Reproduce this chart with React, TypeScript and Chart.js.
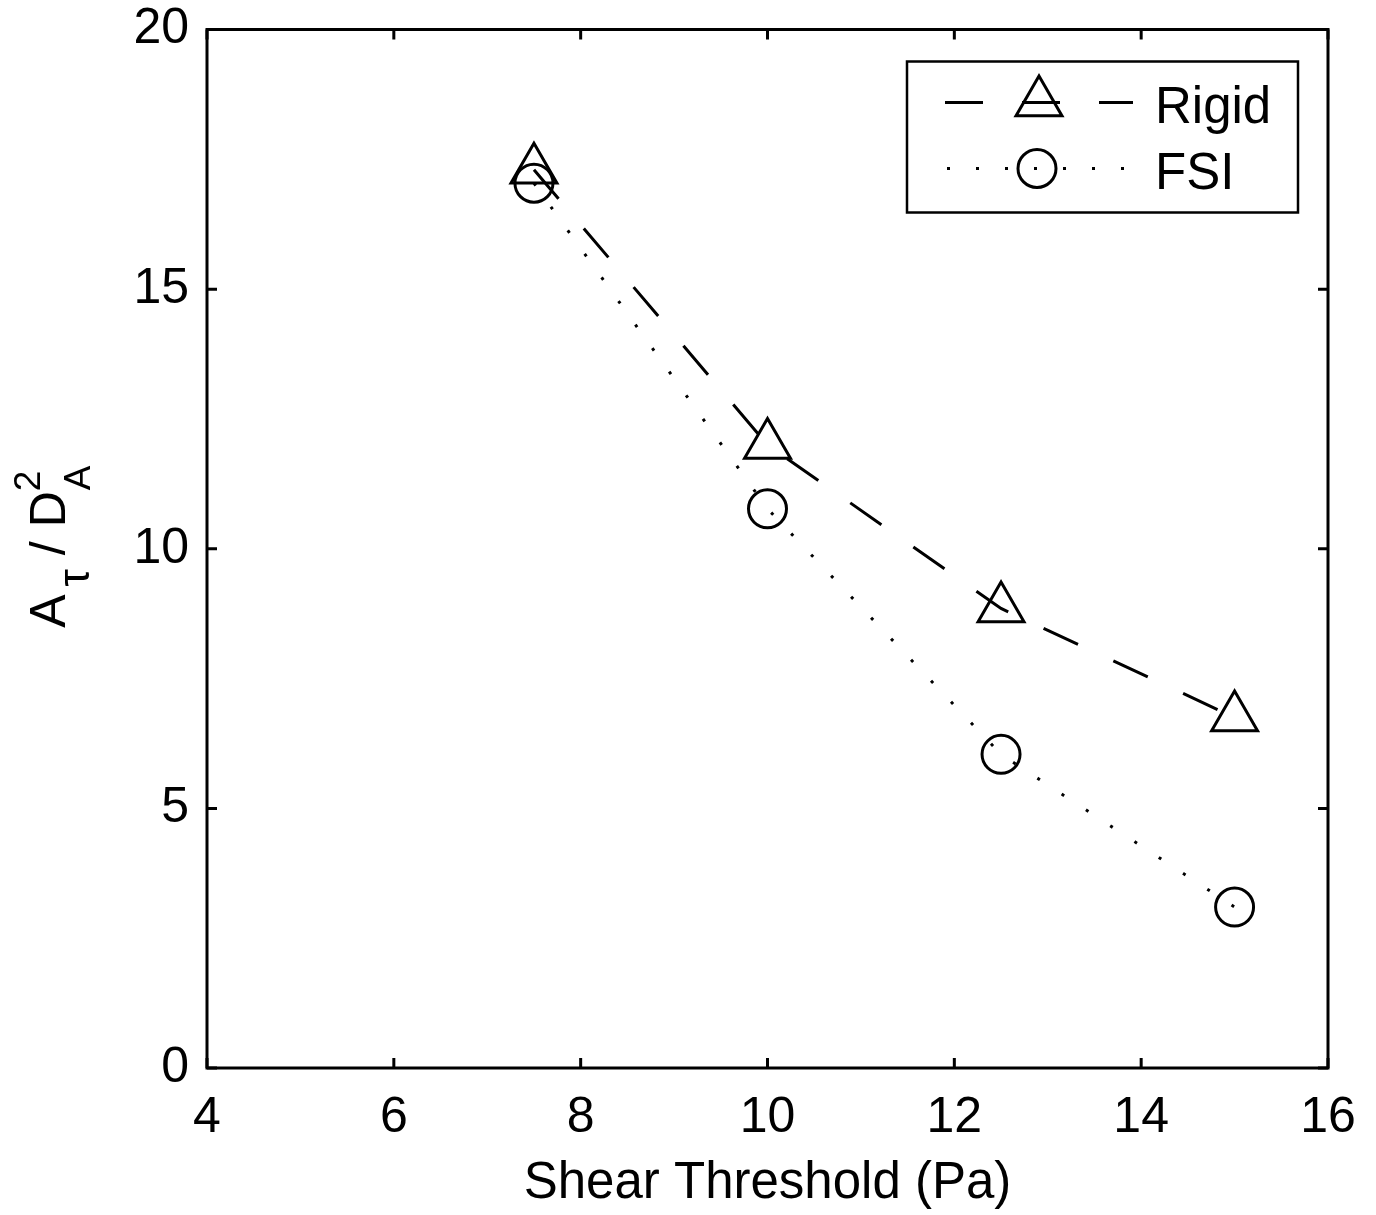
import React, { useEffect, useRef } from "react";
import { Chart, registerables } from "chart.js";

Chart.register(...registerables);

const shearThreshold = [7.5, 10, 12.5, 15];
const rigidValues = [17.3, 12.0, 8.85, 6.75];
const fsiValues = [17.04, 10.77, 6.04, 3.1];
const xTicks = [4, 6, 8, 10, 12, 14, 16];
const yTicks = [0, 5, 10, 15, 20];
const seriesNames = ["Rigid", "FSI"];

const FONT = "'Liberation Sans', Arial, Helvetica, sans-serif";

const boxPlugin = {
  id: "matlabBox",
  afterDatasetsDraw(chart: any) {
    const { ctx, chartArea: a, scales } = chart;
    ctx.save();
    ctx.strokeStyle = "#000";
    ctx.lineWidth = 3;
    ctx.setLineDash([]);
    ctx.lineCap = "butt";
    ctx.strokeRect(a.left, a.top, a.right - a.left, a.bottom - a.top);
    const tl = 10;
    ctx.beginPath();
    for (const v of xTicks) {
      const px = scales.x.getPixelForValue(v);
      ctx.moveTo(px, a.bottom);
      ctx.lineTo(px, a.bottom - tl);
      ctx.moveTo(px, a.top);
      ctx.lineTo(px, a.top + tl);
    }
    for (const v of yTicks) {
      const py = scales.y.getPixelForValue(v);
      ctx.moveTo(a.left, py);
      ctx.lineTo(a.left + tl, py);
      ctx.moveTo(a.right, py);
      ctx.lineTo(a.right - tl, py);
    }
    ctx.stroke();
    ctx.restore();
  },
  afterDraw(chart: any) {
    const { ctx, chartArea: a } = chart;
    ctx.save();
    // ---- legend ----
    const x1 = a.left + 700;
    const y1 = a.top + 32;
    const x2 = a.right - 30;
    const y2 = a.top + 183;
    ctx.fillStyle = "#fff";
    ctx.fillRect(x1, y1, x2 - x1, y2 - y1);
    ctx.strokeStyle = "#000";
    ctx.lineWidth = 2.5;
    ctx.setLineDash([]);
    ctx.strokeRect(x1, y1, x2 - x1, y2 - y1);
    const rows = [a.top + 73, a.top + 139];
    const lx0 = x1 + 38;
    const lx1 = x1 + 226;
    const mx = x1 + 132;
    ctx.lineWidth = 3;
    ctx.lineCap = "butt";
    // Rigid row
    ctx.setLineDash([38, 39]);
    ctx.beginPath();
    ctx.moveTo(lx0, rows[0]);
    ctx.lineTo(lx1, rows[0]);
    ctx.stroke();
    ctx.setLineDash([]);
    const r = 26.5;
    const T = (2 * Math.PI) / 3;
    ctx.beginPath();
    let rad = 0;
    ctx.moveTo(mx + Math.sin(rad) * r, rows[0] - Math.cos(rad) * r);
    rad += T;
    ctx.lineTo(mx + Math.sin(rad) * r, rows[0] - Math.cos(rad) * r);
    rad += T;
    ctx.lineTo(mx + Math.sin(rad) * r, rows[0] - Math.cos(rad) * r);
    ctx.closePath();
    ctx.stroke();
    // FSI row
    ctx.setLineDash([3, 26]);
    ctx.beginPath();
    ctx.moveTo(lx0 + 2, rows[1]);
    ctx.lineTo(lx1, rows[1]);
    ctx.stroke();
    ctx.setLineDash([]);
    ctx.beginPath();
    ctx.arc(mx - 2, rows[1], 19, 0, Math.PI * 2);
    ctx.stroke();
    ctx.fillStyle = "#000";
    ctx.font = `51px ${FONT}`;
    ctx.textAlign = "left";
    ctx.textBaseline = "alphabetic";
    ctx.fillText(seriesNames[0], x1 + 248, rows[0] + 20);
    ctx.fillText(seriesNames[1], x1 + 248, rows[1] + 20);

    // ---- y axis title: A_tau / D_A^2 ----
    const cy = (a.top + a.bottom) / 2;
    ctx.translate(65, cy);
    ctx.rotate(-Math.PI / 2);
    const big = `50px ${FONT}`;
    const small = `37px ${FONT}`;
    let u = -79;
    ctx.font = big;
    ctx.fillText("A", u, 0);
    u += ctx.measureText("A").width;
    ctx.font = `44px ${FONT}`;
    ctx.fillText("\u03C4", u + 8, 24);
    u += ctx.measureText("\u03C4").width + 8;
    ctx.font = big;
    ctx.fillText(" / ", u, 0);
    u += ctx.measureText(" / ").width;
    ctx.fillText("D", u, 0);
    u += ctx.measureText("D").width;
    ctx.font = small;
    ctx.fillText("2", u, -25);
    ctx.fillText("A", u + 1, 25);
    ctx.restore();
  },
};

export default function App() {
  const canvasRef = useRef<HTMLCanvasElement | null>(null);

  useEffect(() => {
    if (!canvasRef.current) return;
    const toPts = (vals: number[]) => shearThreshold.map((x, i) => ({ x, y: vals[i] }));
    const chart = new Chart(canvasRef.current, {
      type: "line",
      data: {
        datasets: [
          {
            label: seriesNames[0],
            data: toPts(rigidValues),
            borderColor: "#000",
            borderWidth: 3,
            borderDash: [38, 39],
            borderCapStyle: "butt",
            pointStyle: "triangle",
            pointRadius: 26.5,
            pointHoverRadius: 26.5,
            pointBorderWidth: 3,
            pointBorderColor: "#000",
            pointBackgroundColor: "rgba(0,0,0,0)",
            fill: false,
            tension: 0,
          },
          {
            label: seriesNames[1],
            data: toPts(fsiValues),
            borderColor: "#000",
            borderWidth: 3,
            borderDash: [3, 26],
            borderCapStyle: "butt",
            pointStyle: "circle",
            pointRadius: 19,
            pointHoverRadius: 19,
            pointBorderWidth: 3,
            pointBorderColor: "#000",
            pointBackgroundColor: "rgba(0,0,0,0)",
            fill: false,
            tension: 0,
          },
        ],
      },
      options: {
        animation: false,
        responsive: false,
        devicePixelRatio: 1,
        events: [],
        layout: { padding: { left: 0, top: 29, right: 48, bottom: 0 } },
        plugins: { legend: { display: false }, tooltip: { enabled: false } },
        scales: {
          x: {
            type: "linear",
            min: 4,
            max: 16,
            afterFit: (s: any) => {
              s.height = 147;
              s.paddingLeft = 0;
              s.paddingRight = 0;
            },
            afterBuildTicks: (s: any) => {
              s.ticks = xTicks.map((v) => ({ value: v }));
            },
            grid: { display: true, drawOnChartArea: false, drawTicks: false },
            border: { display: false },
            ticks: {
              color: "#000",
              font: { family: FONT, size: 50 },
              padding: 20,
              maxRotation: 0,
              autoSkip: false,
            },
            title: {
              display: true,
              text: "Shear Threshold (Pa)",
              color: "#000",
              font: { family: FONT, size: 51 },
              padding: { top: 0, bottom: 0 },
            },
          },
          y: {
            type: "linear",
            min: 0,
            max: 20,
            afterFit: (s: any) => {
              s.width = 207;
              s.paddingTop = 0;
              s.paddingBottom = 0;
            },
            afterBuildTicks: (s: any) => {
              s.ticks = yTicks.map((v) => ({ value: v }));
            },
            grid: { display: true, drawOnChartArea: false, drawTicks: false },
            border: { display: false },
            ticks: {
              color: "#000",
              font: { family: FONT, size: 50 },
              padding: 18,
              autoSkip: false,
            },
          },
        },
      },
      plugins: [boxPlugin],
    } as any);
    return () => chart.destroy();
  }, []);

  return (
    <div style={{ position: "absolute", left: 0, top: 0, width: 1376, height: 1215, background: "#fff" }}>
      <canvas ref={canvasRef} width={1376} height={1215} style={{ display: "block" }} />
    </div>
  );
}
